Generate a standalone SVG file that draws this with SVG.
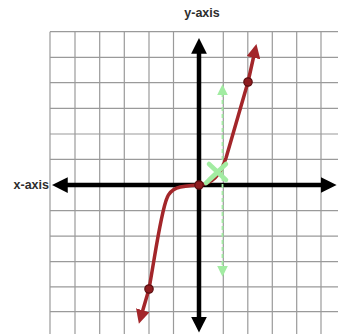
<svg xmlns="http://www.w3.org/2000/svg" width="338" height="334" viewBox="0 0 338 334">
<defs>
<style>
.grid line{stroke:#9a9a9a;stroke-width:1.2}
.axis{stroke:#000;stroke-width:4.5;fill:none}
.lbl{font-family:"Liberation Sans",Arial,sans-serif;font-weight:bold;font-size:12.5px;fill:#2e2e2e}
.curve{stroke:#a3262a;stroke-width:3.5;fill:none;stroke-linecap:round;stroke-linejoin:round}
.pt{fill:#8e1c1f;stroke:#5a0d0f;stroke-width:1.2}
.green{stroke:#a2eca2;stroke-width:1.8;fill:none}
</style>
<marker id="ah" viewBox="0 0 10 10" refX="2" refY="5" markerWidth="3.5" markerHeight="3.6" orient="auto-start-reverse" markerUnits="strokeWidth">
<path d="M0,0 L10,5 L0,10 z" fill="#000"/>
</marker>
<marker id="rh" viewBox="0 0 10 10" refX="2" refY="5" markerWidth="4" markerHeight="4" orient="auto-start-reverse" markerUnits="strokeWidth">
<path d="M0,0 L10,5 L0,10 z" fill="#a3262a"/>
</marker>
<marker id="gh" viewBox="0 0 10 10" refX="2" refY="5" markerWidth="6" markerHeight="7" orient="auto-start-reverse" markerUnits="strokeWidth">
<path d="M0,0 L10,5 L0,10 z" fill="#a2eca2"/>
</marker>
</defs>
<rect width="338" height="334" fill="#fff"/>
<g id="grid" class="grid">
<line x1="50" y1="31.7" x2="50" y2="334"/>
<line x1="75" y1="31.7" x2="75" y2="334"/>
<line x1="99.7" y1="31.7" x2="99.7" y2="334"/>
<line x1="124.3" y1="31.7" x2="124.3" y2="334"/>
<line x1="149" y1="31.7" x2="149" y2="334"/>
<line x1="173.5" y1="31.7" x2="173.5" y2="334"/>
<line x1="223.3" y1="31.7" x2="223.3" y2="334"/>
<line x1="247.8" y1="31.7" x2="247.8" y2="334"/>
<line x1="272.3" y1="31.7" x2="272.3" y2="334"/>
<line x1="296.7" y1="31.7" x2="296.7" y2="334"/>
<line x1="321" y1="31.7" x2="321" y2="334"/>
<line x1="50" y1="31.7" x2="338" y2="31.7"/>
<line x1="50" y1="57.3" x2="338" y2="57.3"/>
<line x1="50" y1="82.7" x2="338" y2="82.7"/>
<line x1="50" y1="108.3" x2="338" y2="108.3"/>
<line x1="50" y1="134" x2="338" y2="134"/>
<line x1="50" y1="159.3" x2="338" y2="159.3"/>
<line x1="50" y1="210.7" x2="338" y2="210.7"/>
<line x1="50" y1="236.2" x2="338" y2="236.2"/>
<line x1="50" y1="261.7" x2="338" y2="261.7"/>
<line x1="50" y1="286.9" x2="338" y2="286.9"/>
<line x1="50" y1="311.7" x2="338" y2="311.7"/>
</g>
<g id="connectors">
<line id="y-axis-line" class="axis" x1="199" y1="320" x2="199" y2="50.6" marker-start="url(#ah)" marker-end="url(#ah)"/>
<line id="x-axis-line" class="axis" x1="64.6" y1="185" x2="324" y2="185" marker-start="url(#ah)" marker-end="url(#ah)"/>
<line id="green-dash" class="green" x1="222.5" y1="93" x2="222.5" y2="268" stroke-dasharray="4,3" marker-start="url(#gh)" marker-end="url(#gh)"/>
<path id="curve" class="curve" d="M142,313 L149,289 C156,250 161,212 167,198 C171,188 178,186 199,185 C212,184 220,176 226,158 L248,82 L254,55" marker-start="url(#rh)" marker-end="url(#rh)"/>
</g>
<g id="green-x">
<path d="M209,164 L226,180 M226,164 L209,180 M206,183 L217,173" stroke="#a2eca2" stroke-width="4.5" stroke-linecap="round" fill="none"/>
</g>
<g id="points">
<circle id="p-top" class="pt" cx="248" cy="82" r="4.2"/>
<circle id="p-origin" class="pt" cx="199" cy="185" r="4.2"/>
<circle id="p-bottom" class="pt" cx="149" cy="289" r="4.2"/>
</g>
<g id="labels">
<text class="lbl" x="202" y="17" text-anchor="middle">y-axis</text>
<text class="lbl" x="49" y="189" text-anchor="end">x-axis</text>
</g>
</svg>
